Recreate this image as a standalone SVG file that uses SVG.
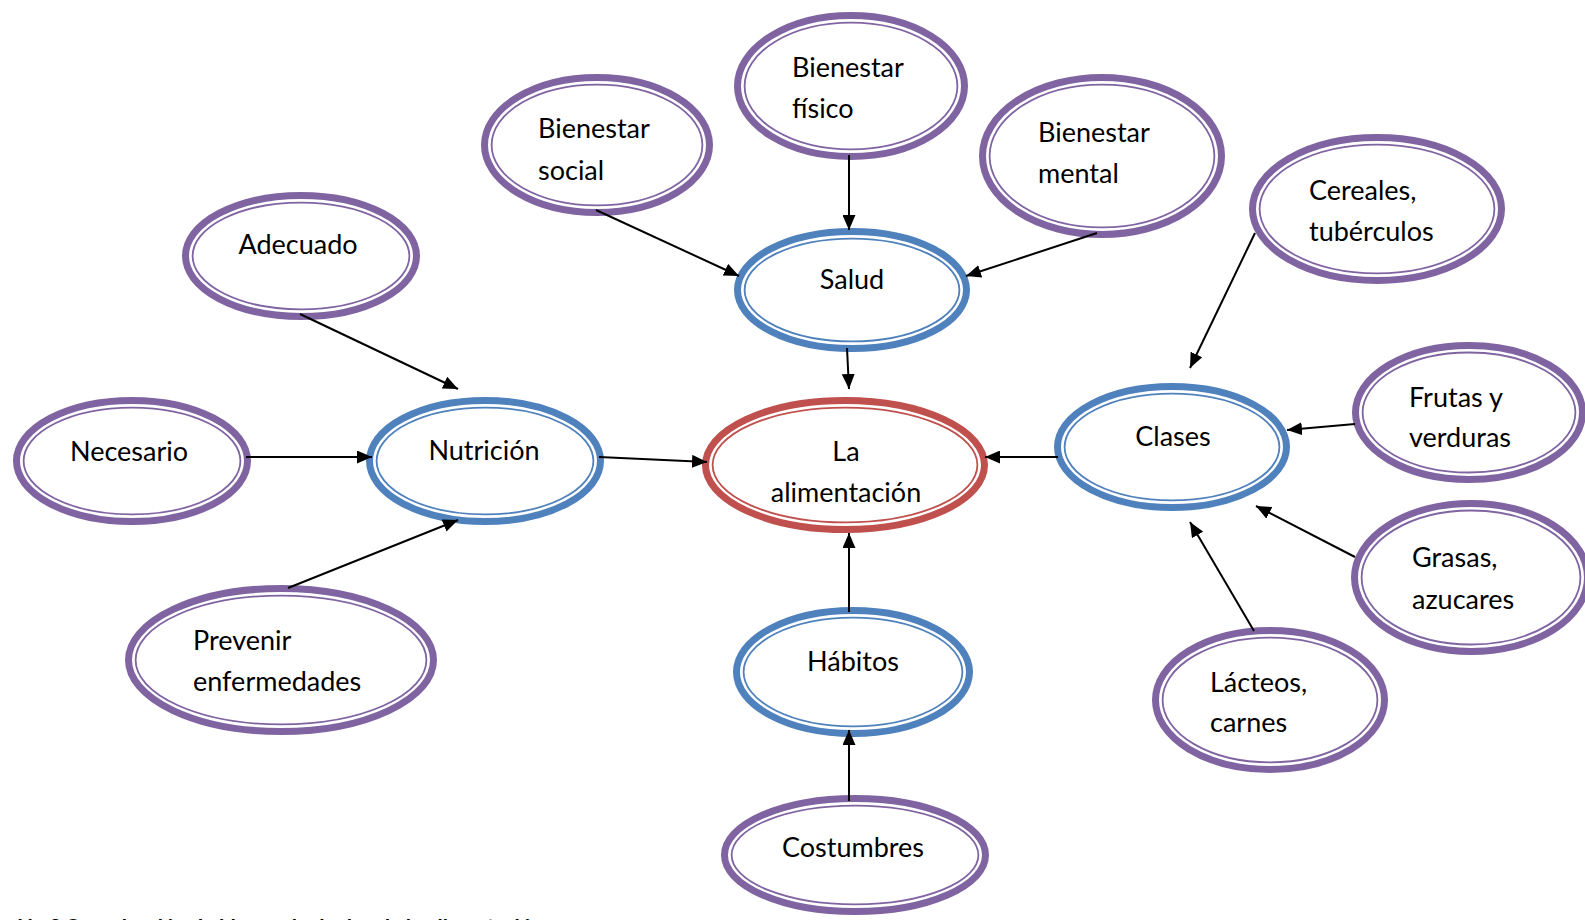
<svg xmlns="http://www.w3.org/2000/svg" width="1585" height="920" viewBox="0 0 1585 920">
<defs>
<style>
.o{fill:#fff;stroke-width:7}
.i{fill:none;stroke-width:1.8}
.p .o,.p .i{stroke:#8064A2}
.b .o,.b .i{stroke:#4F81BD}
.r .o,.r .i{stroke:#C0504D}
text{font-family:Lato,"Open Sans","Liberation Sans",sans-serif;font-size:27px;fill:#000}
.c{text-anchor:middle}
.e{stroke:#000;stroke-width:2;fill:none;marker-end:url(#ah)}
.cap{font-family:"Liberation Sans",Arial,sans-serif;font-weight:bold;font-size:19px}
</style>
<marker id="ah" markerUnits="userSpaceOnUse" viewBox="0 0 15 13" refX="15" refY="6.5" markerWidth="15" markerHeight="13" orient="auto">
<path d="M0,0 L15,6.5 L0,13 z" fill="#000"/>
</marker>
</defs>
<rect width="1585" height="920" fill="#fff"/>

<g id="bienestar-social" class="p">
<ellipse class="o" cx="597" cy="145" rx="112.5" ry="67.5"/>
<ellipse class="i" cx="597" cy="145" rx="105.4" ry="60.4"/>
<text x="538" y="138">Bienestar</text>
<text x="538" y="180">social</text>
</g>
<g id="bienestar-fisico" class="p">
<ellipse class="o" cx="851" cy="86" rx="113.5" ry="70.5"/>
<ellipse class="i" cx="851" cy="86" rx="106.4" ry="63.4"/>
<text x="792" y="77">Bienestar</text>
<text x="792" y="118">físico</text>
</g>
<g id="bienestar-mental" class="p">
<ellipse class="o" cx="1102" cy="156" rx="119.5" ry="78.5"/>
<ellipse class="i" cx="1102" cy="156" rx="112.4" ry="71.4"/>
<text x="1038" y="142">Bienestar</text>
<text x="1038" y="183">mental</text>
</g>
<g id="cereales" class="p">
<ellipse class="o" cx="1377" cy="209" rx="124.5" ry="71.5"/>
<ellipse class="i" cx="1377" cy="209" rx="117.4" ry="64.4"/>
<text x="1309" y="200">Cereales,</text>
<text x="1309" y="241">tubérculos</text>
</g>
<g id="adecuado" class="p">
<ellipse class="o" cx="301" cy="256" rx="115.5" ry="60.5"/>
<ellipse class="i" cx="301" cy="256" rx="108.4" ry="53.4"/>
<text class="c" x="298" y="254">Adecuado</text>
</g>
<g id="salud" class="b">
<ellipse class="o" cx="852" cy="290" rx="114.5" ry="58.5"/>
<ellipse class="i" cx="852" cy="290" rx="107.4" ry="51.4"/>
<text class="c" x="852" y="289">Salud</text>
</g>
<g id="necesario" class="p">
<ellipse class="o" cx="132" cy="461" rx="115.5" ry="60.5"/>
<ellipse class="i" cx="132" cy="461" rx="108.4" ry="53.4"/>
<text class="c" x="129" y="461">Necesario</text>
</g>
<g id="nutricion" class="b">
<ellipse class="o" cx="485" cy="461" rx="115.5" ry="60.5"/>
<ellipse class="i" cx="485" cy="461" rx="108.4" ry="53.4"/>
<text class="c" x="484" y="460">Nutrición</text>
</g>
<g id="la-alimentacion" class="r">
<ellipse class="o" cx="845" cy="465" rx="139.5" ry="64.5"/>
<ellipse class="i" cx="845" cy="465" rx="132.4" ry="57.4"/>
<text class="c" x="846" y="461">La</text>
<text class="c" x="846" y="502">alimentación</text>
</g>
<g id="clases" class="b">
<ellipse class="o" cx="1172" cy="447" rx="114.5" ry="60.5"/>
<ellipse class="i" cx="1172" cy="447" rx="107.4" ry="53.4"/>
<text class="c" x="1173" y="446">Clases</text>
</g>
<g id="frutas" class="p">
<ellipse class="o" cx="1469" cy="412.5" rx="113.5" ry="67"/>
<ellipse class="i" cx="1469" cy="412.5" rx="106.4" ry="60"/>
<text x="1409" y="407">Frutas y</text>
<text x="1409" y="447">verduras</text>
</g>
<g id="grasas" class="p">
<ellipse class="o" cx="1471" cy="577.5" rx="116.5" ry="74"/>
<ellipse class="i" cx="1471" cy="577.5" rx="109.4" ry="67"/>
<text x="1412" y="567">Grasas,</text>
<text x="1412" y="609">azucares</text>
</g>
<g id="lacteos" class="p">
<ellipse class="o" cx="1270" cy="700" rx="114.5" ry="69.5"/>
<ellipse class="i" cx="1270" cy="700" rx="107.4" ry="62.4"/>
<text x="1210" y="692">Lácteos,</text>
<text x="1210" y="732">carnes</text>
</g>
<g id="prevenir" class="p">
<ellipse class="o" cx="281" cy="660" rx="152.5" ry="71.5"/>
<ellipse class="i" cx="281" cy="660" rx="145.4" ry="64.4"/>
<text x="193" y="650">Prevenir</text>
<text x="193" y="691">enfermedades</text>
</g>
<g id="habitos" class="b">
<ellipse class="o" cx="853" cy="672" rx="116.5" ry="61.5"/>
<ellipse class="i" cx="853" cy="672" rx="109.4" ry="54.4"/>
<text class="c" x="853" y="671">Hábitos</text>
</g>
<g id="costumbres" class="p">
<ellipse class="o" cx="855" cy="855" rx="130.5" ry="56.5"/>
<ellipse class="i" cx="855" cy="855" rx="123.4" ry="49.4"/>
<text class="c" x="853" y="857">Costumbres</text>
</g>

<g id="connectors">
<line class="e" x1="849" y1="155" x2="849" y2="230"/>
<line class="e" x1="596" y1="210" x2="739" y2="276"/>
<line class="e" x1="1097" y1="233" x2="966" y2="276"/>
<line class="e" x1="847" y1="348" x2="849" y2="389"/>
<line class="e" x1="300" y1="314" x2="458" y2="389"/>
<line class="e" x1="246" y1="457" x2="372" y2="457"/>
<line class="e" x1="288" y1="588" x2="458" y2="520"/>
<line class="e" x1="599" y1="457" x2="707" y2="462"/>
<line class="e" x1="849" y1="612" x2="849" y2="533"/>
<line class="e" x1="849" y1="801" x2="849" y2="730"/>
<line class="e" x1="1058" y1="457" x2="985" y2="457"/>
<line class="e" x1="1255" y1="233" x2="1190" y2="368"/>
<line class="e" x1="1355" y1="424" x2="1287" y2="430"/>
<line class="e" x1="1355" y1="557" x2="1256" y2="506"/>
<line class="e" x1="1254" y1="631" x2="1190" y2="522"/>
</g>

<g id="caption">
<text class="cap" x="46" y="932" text-anchor="end">Ilustración</text>
<text class="cap" x="50" y="932">2 Organización de ideas principales de la alimentación</text>
</g>
</svg>
